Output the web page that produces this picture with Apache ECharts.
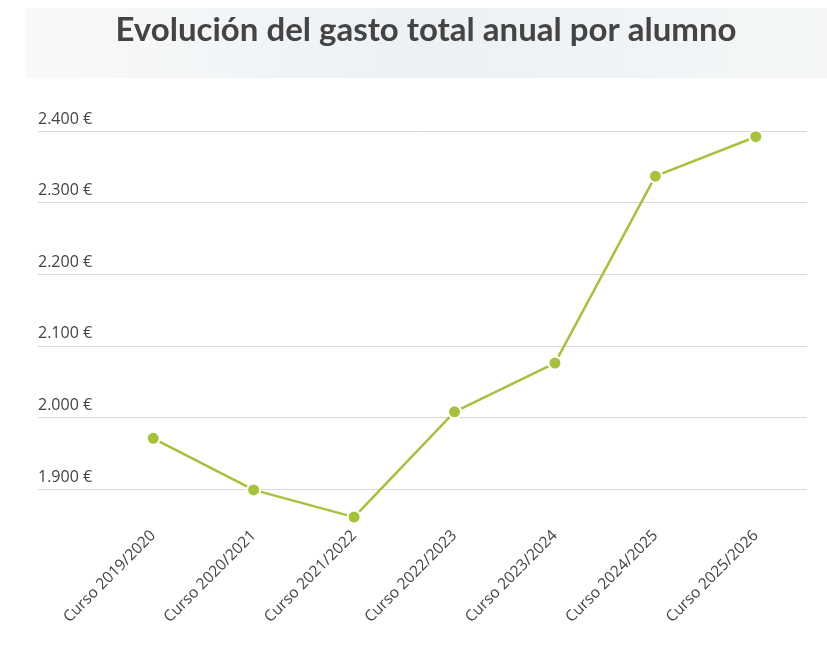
<!DOCTYPE html>
<html>
<head>
<meta charset="utf-8">
<script src="https://cdn.jsdelivr.net/npm/echarts@6/dist/echarts.min.js"></script>
<style>
  html, body { margin: 0; padding: 0; background: #fff; }
  #chart { width: 827px; height: 656px; }
</style>
</head>
<body>
<div id="chart"></div>
<script>
// data
const titleText = "Evolución del gasto total anual por alumno";
const categories = [
    "Curso 2019/2020",
    "Curso 2020/2021",
    "Curso 2021/2022",
    "Curso 2022/2023",
    "Curso 2023/2024",
    "Curso 2024/2025",
    "Curso 2025/2026",
];
const gasto = [1971, 1899, 1861, 2008, 2076, 2337, 2392];
const yMin = 1850;
const yMax = 2400;

const green = "#a6c23b";
const textColor = "#444444";

function euros(v) {
    return String(v).replace(/\B(?=(\d{3})+(?!\d))/g, ".") + " €";
}

const chart = echarts.init(document.getElementById("chart"));

const options = {
    animation: false,
    graphic: [
        {
            type: "rect",
            left: 25,
            top: 8,
            shape: { width: 802, height: 70 },
            style: {
                fill: new echarts.graphic.LinearGradient(0, 0, 1, 0, [
                    { offset: 0, color: "#f8f9fa" },
                    { offset: 0.5, color: "#edf1f4" },
                    { offset: 1, color: "#f5f7f8" },
                ]),
            },
            z: -1,
        },
        {
            type: "text",
            x: 426,
            y: 30,
            style: {
                text: titleText,
                font: "bold 33px Lato",
                fill: textColor,
                align: "center",
                verticalAlign: "middle",
            },
        },
    ],
    grid: [
        // grid lines + y labels span the full width
        { left: 38, right: 20, top: 131, bottom: 131 },
        // the line itself sits right of the labels
        { left: 103, right: 21, top: 131, bottom: 131 },
    ],
    xAxis: [
        { type: "category", gridIndex: 0, data: categories, show: false },
        {
            type: "category",
            gridIndex: 1,
            data: categories,
            axisLine: { show: false },
            axisTick: { show: false },
            axisLabel: {
                rotate: 45,
                margin: 8,
                color: textColor,
                fontFamily: "Open Sans",
                fontSize: 15.5,
                interval: 0,
            },
        },
    ],
    yAxis: [
        {
            type: "value",
            gridIndex: 0,
            min: yMin,
            max: yMax,
            splitNumber: 5,
            axisLine: { show: false },
            axisTick: { show: false },
            axisLabel: {
                inside: true,
                showMinLabel: false,
                margin: 0,
                align: "left",
                verticalAlign: "bottom",
                padding: [0, 0, 4, 0],
                color: textColor,
                fontFamily: "Open Sans",
                fontSize: 16,
                formatter: euros,
            },
            splitLine: {
                showMinLine: false,
                lineStyle: { color: "#d9d9d9", width: 1 },
            },
        },
        {
            type: "value",
            gridIndex: 1,
            min: yMin,
            max: yMax,
            show: false,
            splitLine: { show: false },
        },
    ],
    series: [
        {
            type: "line",
            xAxisIndex: 1,
            yAxisIndex: 1,
            data: gasto,
            symbol: "circle",
            symbolSize: 13,
            lineStyle: { color: green, width: 2.5 },
            itemStyle: { color: green, borderColor: "#ffffff", borderWidth: 2 },
        },
    ],
};

chart.setOption(options);
window.addEventListener("resize", () => {
    chart.resize();
});
</script>
</body>
</html>
